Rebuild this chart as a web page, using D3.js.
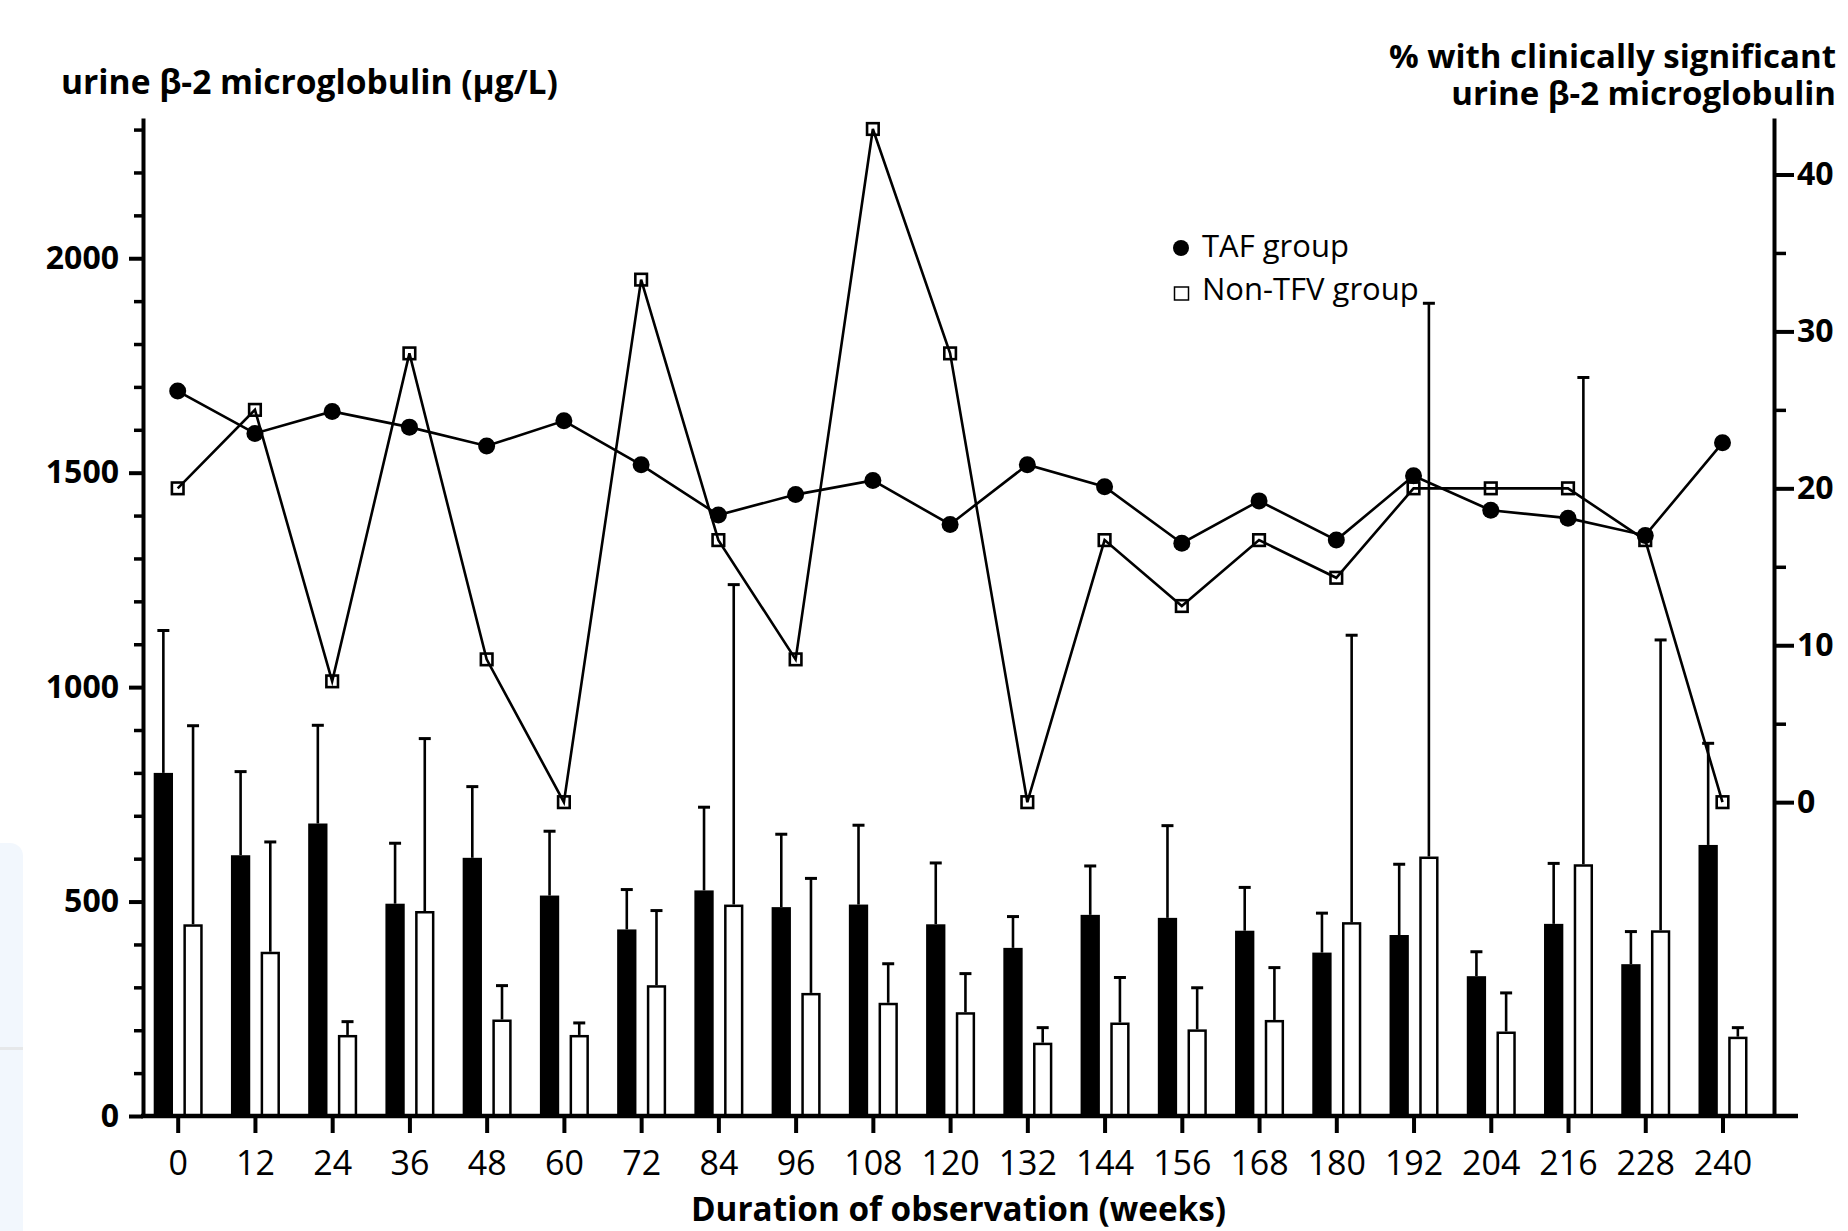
<!DOCTYPE html>
<html>
<head>
<meta charset="utf-8">
<script src="https://cdn.jsdelivr.net/npm/d3@7"></script>
<style>
  body { margin: 0; background: #fff; }
  svg text { font-family: "Open Sans", sans-serif; fill: #000; }
</style>
</head>
<body>
<div class="chart"></div>
<script>
const weeks = [0, 12, 24, 36, 48, 60, 72, 84, 96, 108, 120, 132, 144, 156, 168, 180, 192, 204, 216, 228, 240]
const groups = ["TAF group", "Non-TFV group"]

// urine b2-microglobulin, mean and SD (ug/L)
const tafMean = [800, 608, 682, 495, 602, 514, 435, 526, 487, 493, 447, 392, 469, 462, 432, 381, 422, 326, 448, 354, 632]
const tafSD = [332, 195, 229, 141, 166, 150, 93, 194, 170, 185, 143, 73, 114, 215, 101, 92, 165, 57, 141, 76, 237]
const nonMean = [447, 383, 189, 478, 225, 189, 305, 493, 287, 264, 242, 171, 218, 202, 224, 452, 605, 197, 587, 433, 185]
const nonSD = [463, 256, 31, 402, 79, 28, 174, 746, 267, 91, 90, 35, 105, 97, 122, 669, 1290, 90, 1135, 677, 21]

// % with clinically significant urine b2-microglobulin
const tafPct = [26.2, 23.5, 24.9, 23.9, 22.7, 24.3, 21.5, 18.3, 19.6, 20.5, 17.7, 21.5, 20.1, 16.5, 19.2, 16.7, 20.8, 18.6, 18.1, 17.0, 22.9]
const nonPct = [20.0, 25.0, 7.7, 28.6, 9.1, 0, 33.3, 16.7, 9.1, 42.9, 28.6, 0, 16.7, 12.5, 16.7, 14.3, 20.0, 20.0, 20.0, 16.7, 0]

const leftTicks = [0, 500, 1000, 1500, 2000]
const rightTicks = [0, 10, 20, 30, 40]

const width = 1848
const height = 1231
const plot = { left: 143, right: 1774, top: 118, bottom: 1116 }

const svg = d3.select(".chart")
    .append("svg")
    .attr("width", width)
    .attr("height", height)

// faint page panel at the left edge of the screenshot
svg.append("path")
    .attr("d", "M0,843 H10 a13,13 0 0 1 13,13 V1231 H0 Z")
    .style("fill", "#f2f7fd")
svg.append("rect")
    .attr("x", 0).attr("y", 1047).attr("width", 23).attr("height", 3)
    .style("fill", "#e6e8ea")

const x = d3.scalePoint()
    .domain(weeks)
    .range([177.7, 1722.5])

const x1 = d3.scaleBand()
    .domain(groups)
    .range([-24, 25])
    .paddingInner(0.35)

const y = d3.scaleLinear()
    .domain([0, 2327])
    .range([plot.bottom, plot.top])

const y2 = d3.scaleLinear()
    .domain([-20, 43.6])
    .range([plot.bottom, plot.top])

const rows = []
weeks.forEach(function (w, i) {
    rows.push({ week: w, group: groups[0], mean: tafMean[i], sd: tafSD[i] })
    rows.push({ week: w, group: groups[1], mean: nonMean[i], sd: nonSD[i] })
})

// error bars (mean + SD, upper whisker only)
const bw = x1.bandwidth()
const err = svg.append("g").attr("class", "errors")
err.selectAll("line.whisker")
    .data(rows)
    .enter().append("line")
    .attr("class", "whisker")
    .attr("x1", function (d) { return x(d.week) + x1(d.group) + bw / 2 })
    .attr("x2", function (d) { return x(d.week) + x1(d.group) + bw / 2 })
    .attr("y1", function (d) { return y(d.mean) })
    .attr("y2", function (d) { return y(d.mean + d.sd) })
    .style("stroke", "#000")
    .style("stroke-width", 2.6)
err.selectAll("line.cap")
    .data(rows)
    .enter().append("line")
    .attr("class", "cap")
    .attr("x1", function (d) { return x(d.week) + x1(d.group) + bw / 2 - 6 })
    .attr("x2", function (d) { return x(d.week) + x1(d.group) + bw / 2 + 6 })
    .attr("y1", function (d) { return y(d.mean + d.sd) })
    .attr("y2", function (d) { return y(d.mean + d.sd) })
    .style("stroke", "#000")
    .style("stroke-width", 3)

// bars
svg.append("g").attr("class", "bars")
    .selectAll("rect")
    .data(rows)
    .enter().append("rect")
    .attr("x", function (d) { return x(d.week) + x1(d.group) + (d.group === groups[0] ? 0 : 1.25) })
    .attr("y", function (d) { return y(d.mean) + (d.group === groups[0] ? 0 : 1.25) })
    .attr("width", function (d) { return d.group === groups[0] ? bw : bw - 2.5 })
    .attr("height", function (d) { return y(0) - y(d.mean) - (d.group === groups[0] ? 0 : 1.25) })
    .style("fill", function (d) { return d.group === groups[0] ? "#000" : "#fff" })
    .style("stroke", function (d) { return d.group === groups[0] ? "none" : "#000" })
    .style("stroke-width", 2.5)

// percentage lines
const tafLine = weeks.map(function (w, i) { return { week: w, pct: tafPct[i] } })
const nonLine = weeks.map(function (w, i) { return { week: w, pct: nonPct[i] } })

const line = d3.line()
    .x(function (d) { return x(d.week) })
    .y(function (d) { return y2(d.pct) })

svg.append("path")
    .datum(tafLine)
    .attr("d", line)
    .style("fill", "none")
    .style("stroke", "#000")
    .style("stroke-width", 2.6)

svg.append("path")
    .datum(nonLine)
    .attr("d", line)
    .style("fill", "none")
    .style("stroke", "#000")
    .style("stroke-width", 2.6)

svg.selectAll("circle.taf")
    .data(tafLine)
    .enter().append("circle")
    .attr("class", "taf")
    .attr("cx", function (d) { return x(d.week) })
    .attr("cy", function (d) { return y2(d.pct) })
    .attr("r", 8.5)
    .style("fill", "#000")

svg.selectAll("rect.non")
    .data(nonLine)
    .enter().append("rect")
    .attr("class", "non")
    .attr("x", function (d) { return x(d.week) - 5.8 })
    .attr("y", function (d) { return y2(d.pct) - 5.8 })
    .attr("width", 11.6)
    .attr("height", 11.6)
    .style("fill", "none")
    .style("stroke", "#000")
    .style("stroke-width", 2.6)

// axes
const minorLeft = d3.range(100, 2400, 100).filter(function (v) { return v % 500 !== 0 })
const minorRight = [5, 15, 25, 35]

svg.append("g")
    .attr("class", "y axis")
    .attr("transform", `translate(${plot.left},0)`)
    .call(d3.axisLeft(y).tickValues(minorLeft).tickSize(9).tickFormat(""))
    .call(g => g.select(".domain").remove())
    .selectAll("line").style("stroke-width", 3.5)

svg.append("g")
    .attr("class", "y axis")
    .attr("transform", `translate(${plot.left},0)`)
    .call(d3.axisLeft(y).tickValues(leftTicks).tickFormat(d3.format("d")).tickSize(14).tickSizeOuter(0).tickPadding(10))
    .call(g => g.selectAll("path, line").style("stroke-width", 4))
    .selectAll("text")
    .style("font-size", "32px")
    .style("font-weight", "bold")

svg.append("g")
    .attr("class", "y2 axis")
    .attr("transform", `translate(${plot.right},0)`)
    .call(d3.axisRight(y2).tickValues(minorRight).tickSize(12).tickFormat(""))
    .call(g => g.select(".domain").remove())
    .selectAll("line").style("stroke-width", 3.5)

svg.append("g")
    .attr("class", "y2 axis")
    .attr("transform", `translate(${plot.right},0)`)
    .call(d3.axisRight(y2).tickValues(rightTicks).tickSize(20).tickSizeOuter(0).tickPadding(3))
    .call(g => g.selectAll("path, line").style("stroke-width", 4))
    .selectAll("text")
    .style("font-size", "32px")
    .style("font-weight", "bold")

svg.append("line")
    .attr("x1", plot.left - 2)
    .attr("x2", plot.right + 24)
    .attr("y1", y(0))
    .attr("y2", y(0))
    .style("stroke", "#000")
    .style("stroke-width", 4.5)

svg.append("g")
    .attr("class", "x axis")
    .attr("transform", `translate(0,${plot.bottom})`)
    .call(d3.axisBottom(x).tickSize(17).tickPadding(18))
    .call(g => g.select(".domain").remove())
    .call(g => g.selectAll("line").style("stroke-width", 4))
    .selectAll("text")
    .style("font-size", "34px")

// titles
svg.append("text")
    .attr("x", 61)
    .attr("y", 94)
    .style("font-size", "33.6px")
    .style("font-weight", "bold")
    .text("urine β-2 microglobulin (μg/L)")

const rightTitle = svg.append("text")
    .style("text-anchor", "end")
    .style("font-size", "33px")
    .style("font-weight", "bold")
rightTitle.append("tspan")
    .attr("x", 1836)
    .attr("y", 68)
    .text("% with clinically significant")
rightTitle.append("tspan")
    .attr("x", 1836)
    .attr("y", 105)
    .text("urine β-2 microglobulin")

svg.append("text")
    .attr("x", (plot.left + plot.right) / 2)
    .attr("y", 1221)
    .style("text-anchor", "middle")
    .style("font-size", "33.3px")
    .style("font-weight", "bold")
    .text("Duration of observation (weeks)")

// legend
const legend = svg.append("g").attr("class", "legend")
legend.append("circle")
    .attr("cx", 1181).attr("cy", 248).attr("r", 8)
    .style("fill", "#000")
legend.append("rect")
    .attr("x", 1174.5).attr("y", 287).attr("width", 14).attr("height", 13)
    .style("fill", "none").style("stroke", "#000").style("stroke-width", 1.5)
legend.selectAll("text")
    .data(groups)
    .enter().append("text")
    .attr("x", 1202)
    .attr("y", function (d, i) { return 257 + i * 43 })
    .style("font-size", "31px")
    .text(function (d) { return d })
</script>
</body>
</html>
